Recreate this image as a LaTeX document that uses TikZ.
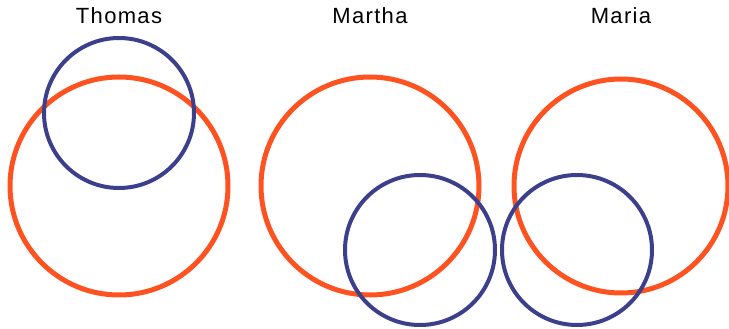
\documentclass[tikz,border=0pt]{standalone}
\usepackage{fontspec}
\setmainfont{Liberation Sans}
\newfontfamily\spacedsans[LetterSpace=6]{Liberation Sans}
\usepackage{tikz}
\usetikzlibrary{positioning}
\definecolor{ringorange}{RGB}{255,82,33}
\definecolor{ringblue}{RGB}{60,64,140}
\tikzset{
  bigring/.style={draw=ringorange,line width=5pt},
  smallring/.style={draw=ringblue,line width=4pt},
  personlabel/.style={font=\spacedsans\fontsize{22}{26}\selectfont}
}
\begin{document}
\begin{tikzpicture}[x=1pt,y=1pt]
  \useasboundingbox (0,0) rectangle (729,329);
  \clip (0,0) rectangle (729,329);
  % Thomas: small ring on top
  \draw[bigring] (119,143) circle (109);
  \draw[smallring] (119,216) circle (75);
  \node[personlabel] (thomas) at (119,313) {Thomas};
  % Martha: small ring lower right
  \draw[bigring] (370,143) circle (109);
  \draw[smallring] (420,79) circle (75);
  \node[personlabel] (martha) at (370,313) {Martha};
  % Maria: small ring lower left
  \draw[bigring] (621,143) circle (107);
  \draw[smallring] (577,79) circle (75);
  \node[personlabel] (maria) at (621,313) {Maria};
\end{tikzpicture}
\end{document}
